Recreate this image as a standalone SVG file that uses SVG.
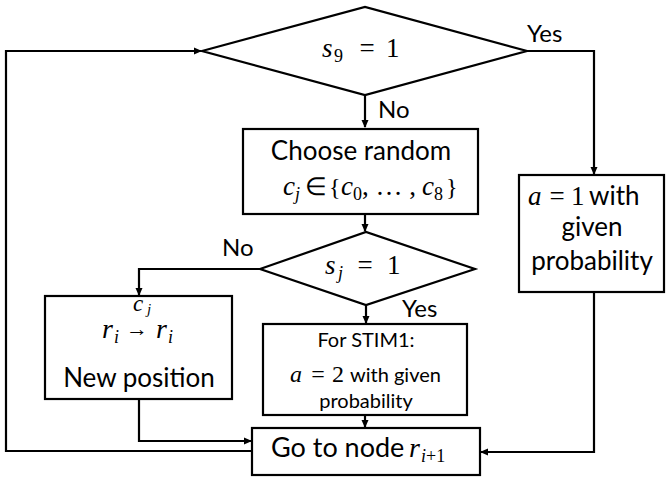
<svg xmlns="http://www.w3.org/2000/svg" width="667" height="479" viewBox="0 0 667 479">
<defs>
<marker id="ah" markerWidth="8" markerHeight="8" refX="7" refY="4" orient="auto" markerUnits="userSpaceOnUse">
<path d="M0,0.5 L8,4 L0,7.5 Z" fill="#000"/>
</marker>
<style>
.shape{fill:#fff;stroke:#000;stroke-width:2.2}
.conn{fill:none;stroke:#000;stroke-width:2.2}
.t{font-family:Lato,"Liberation Sans",sans-serif;fill:#000}
.m{font-family:"Liberation Serif",serif;font-style:italic;fill:#000}
.mu{font-family:"Liberation Serif",serif;font-style:normal;fill:#000}
</style>
</defs>
<rect width="667" height="479" fill="#fff"/>
<g id="connectors">
<path class="conn" d="M365,95 V127" marker-end="url(#ah)"/>
<path class="conn" d="M365,214 V231" marker-end="url(#ah)"/>
<path class="conn" d="M260,269 H139 V295" marker-end="url(#ah)"/>
<path class="conn" d="M366,305 V323" marker-end="url(#ah)"/>
<path class="conn" d="M365,415 V427" marker-end="url(#ah)"/>
<path class="conn" d="M139,399 V441 H251" marker-end="url(#ah)"/>
<path class="conn" d="M252,451 H6 V51 H201" marker-end="url(#ah)"/>
<path class="conn" d="M527,51 H594 V174" marker-end="url(#ah)"/>
<path class="conn" d="M594,292 V452 H481" marker-end="url(#ah)"/>
<text class="t" x="527" y="42" font-size="24">Yes</text>
<text class="t" x="378" y="118" font-size="24">No</text>
<text class="t" x="222" y="256" font-size="24">No</text>
<text class="t" x="402" y="317" font-size="24">Yes</text>
</g>
<g id="dec1">
<polygon class="shape" points="202,51 365,7 527,51 365,95"/>
<text class="m" x="322" y="57" font-size="27">s</text>
<text class="mu" x="334" y="62" font-size="18">9</text>
<text class="mu" x="367" y="57" font-size="27" text-anchor="middle">=</text>
<text class="mu" x="386" y="57" font-size="27">1</text>
</g>
<g id="choose">
<rect class="shape" x="243" y="129" width="235" height="85"/>
<text class="t" x="361" y="160" font-size="26" text-anchor="middle">Choose random</text>
<text class="m" x="283" y="195" font-size="27">c</text>
<text class="m" x="295" y="200" font-size="18">j</text>
<text class="mu" x="316" y="195" font-size="25" text-anchor="middle">∈</text>
<text class="mu" x="329" y="195" font-size="24">{</text>
<text class="m" x="341" y="195" font-size="27">c</text>
<text class="mu" x="353" y="200" font-size="18">0</text>
<text class="mu" x="362" y="195" font-size="27">, … ,</text>
<text class="m" x="422" y="195" font-size="27">c</text>
<text class="mu" x="434" y="200" font-size="18">8</text>
<text class="mu" x="446" y="195" font-size="24">}</text>
</g>
<g id="dec2">
<polygon class="shape" points="260,269 366,232 475,269 366,305"/>
<text class="m" x="325" y="274" font-size="27">s</text>
<text class="m" x="338" y="279" font-size="18">j</text>
<text class="mu" x="365" y="274" font-size="27" text-anchor="middle">=</text>
<text class="mu" x="387" y="274" font-size="27">1</text>
</g>
<g id="newpos">
<rect class="shape" x="45" y="296" width="187" height="103"/>
<text class="m" x="133" y="311" font-size="23">c</text>
<text class="m" x="147" y="314" font-size="15">j</text>
<text class="m" x="102" y="338" font-size="28">r</text>
<text class="m" x="114" y="343" font-size="18">i</text>
<text class="mu" x="126" y="336" font-size="22">→</text>
<text class="m" x="156" y="338" font-size="28">r</text>
<text class="m" x="168" y="343" font-size="18">i</text>
<text class="t" x="139" y="387" font-size="26" text-anchor="middle">New position</text>
</g>
<g id="stim">
<rect class="shape" x="263" y="324" width="204" height="91"/>
<text class="t" x="366" y="347" font-size="20" text-anchor="middle">For STIM1:</text>
<text class="m" x="290" y="382" font-size="24">a</text>
<text class="mu" x="318" y="382" font-size="24" text-anchor="middle">=</text>
<text class="mu" x="332" y="382" font-size="24">2</text>
<text class="t" x="350" y="382" font-size="20">with given</text>
<text class="t" x="366" y="408" font-size="20" text-anchor="middle">probability</text>
</g>
<g id="goto">
<rect class="shape" x="252" y="428" width="228" height="47"/>
<text class="t" x="271" y="457" font-size="27">Go to node</text>
<text class="m" x="409" y="457" font-size="28">r</text>
<text class="m" x="421" y="462" font-size="18">i<tspan class="mu">+1</tspan></text>
</g>
<g id="a1">
<rect class="shape" x="519" y="175" width="145" height="117"/>
<text class="m" x="528" y="205" font-size="27">a</text>
<text class="mu" x="557" y="205" font-size="27" text-anchor="middle">=</text>
<text class="mu" x="571" y="205" font-size="27">1</text>
<text class="t" x="589" y="205" font-size="26">with</text>
<text class="t" x="592" y="236" font-size="26" text-anchor="middle">given</text>
<text class="t" x="592" y="270" font-size="26" text-anchor="middle">probability</text>
</g>
</svg>
